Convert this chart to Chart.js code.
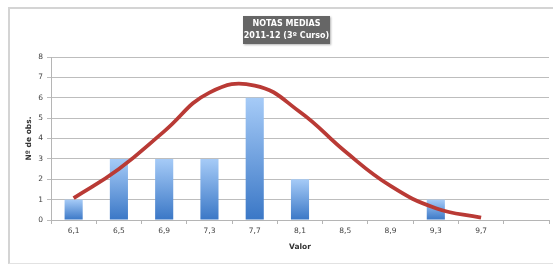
<!DOCTYPE html>
<html>
<head>
<meta charset="utf-8">
<script src="https://cdn.jsdelivr.net/npm/chart.js@4/dist/chart.umd.min.js"></script>
<style>
  html, body { margin: 0; padding: 0; background: #fff; overflow: hidden; }
  #wrap { position: relative; width: 553px; height: 264px; }
  #frame { position: absolute; left: 8px; top: 7px; width: 600px; height: 254px;
           border-left: 2px solid #d4d4d4; border-top: 2px solid #d4d4d4; border-bottom: 1px solid #e2e2e2; }
  #titulo { position: absolute; left: 243px; top: 16px; width: 87px; height: 28px;
            background: #666; color: #fff; font: bold 8px "DejaVu Sans", sans-serif;
            text-align: center; line-height: 12px; padding-top: 2px; box-sizing: border-box;
            white-space: nowrap; box-shadow: 1px 1px 2px rgba(0,0,0,0.3); }
  canvas { position: absolute; left: 0; top: 0; }
</style>
</head>
<body>
<div id="wrap">
  <div id="frame"></div>
  <canvas id="grafico" width="553" height="264"></canvas>
  <div id="titulo">NOTAS MEDIAS<br>2011-12 (3º Curso)</div>
</div>
<script>
// categorias del eje X (la ultima va vacia, como en la hoja)
const valores = ['6,1', '6,5', '6,9', '7,3', '7,7', '8,1', '8,5', '8,9', '9,3', '9,7', ''];
// numero de observaciones por nota
const observaciones = [1, 3, 3, 3, 6, 2, 0, 0, 1, 0, null];
// curva normal ajustada
const curvaNormal = [1.07, 2.5, 4.35, 6.25, 6.6, 5.3, 3.36, 1.67, 0.58, 0.12, null];

const fuente = { family: '"DejaVu Sans", sans-serif', size: 7.5 };

function degradado(ctx) {
  const chart = ctx.chart;
  if (!chart.chartArea || ctx.raw == null) return '#6a9fe0';
  const y = chart.scales.y;
  const top = y.getPixelForValue(ctx.raw);
  const bottom = y.getPixelForValue(0);
  if (bottom - top < 1) return '#6a9fe0';
  const g = chart.ctx.createLinearGradient(0, top, 0, bottom);
  g.addColorStop(0, '#a6cbf7');
  g.addColorStop(1, '#3a77c6');
  return g;
}

new Chart(document.getElementById('grafico'), {
  type: 'bar',
  data: {
    labels: valores,
    datasets: [
      {
        type: 'line',
        label: 'Normal',
        data: curvaNormal,
        borderColor: '#b93a35',
        borderWidth: 3.8,
        pointRadius: 0,
        tension: 0.45,
        fill: false,
        order: 0
      },
      {
        label: 'Nº de obs.',
        data: observaciones,
        backgroundColor: degradado,
        borderWidth: 0,
        barPercentage: 0.4,
        categoryPercentage: 1,
        order: 1
      }
    ]
  },
  options: {
    responsive: false,
    animation: false,
    layout: { padding: { left: 0, right: 4, top: 57, bottom: 0 } },
    plugins: {
      legend: { display: false },
      title: { display: false },
      tooltip: { enabled: false }
    },
    scales: {
      x: {
        grid: { drawOnChartArea: false, drawTicks: true, tickLength: 4, color: '#b5b5b5', offset: true },
        border: { color: '#b5b5b5' },
        ticks: { color: '#444', font: fuente, padding: 3, maxRotation: 0 },
        title: { display: true, text: 'Valor', color: '#333',
                 font: { family: '"DejaVu Sans", sans-serif', size: 7.5, weight: 'bold' },
                 padding: { top: 0, bottom: 12 } },
        afterFit: s => { s.height = 44; }
      },
      y: {
        min: 0,
        max: 8,
        ticks: { stepSize: 1, color: '#444', font: fuente, padding: 4 },
        grid: { color: '#bdbdbd', tickLength: 4 },
        border: { color: '#b5b5b5' },
        title: { display: true, text: 'Nº de obs.', color: '#333',
                 font: { family: '"DejaVu Sans", sans-serif', size: 7.5, weight: 'bold' },
                 padding: { top: 25, bottom: 0 } },
        afterFit: s => { s.width = 51; }
      }
    }
  }
});
</script>
</body>
</html>
